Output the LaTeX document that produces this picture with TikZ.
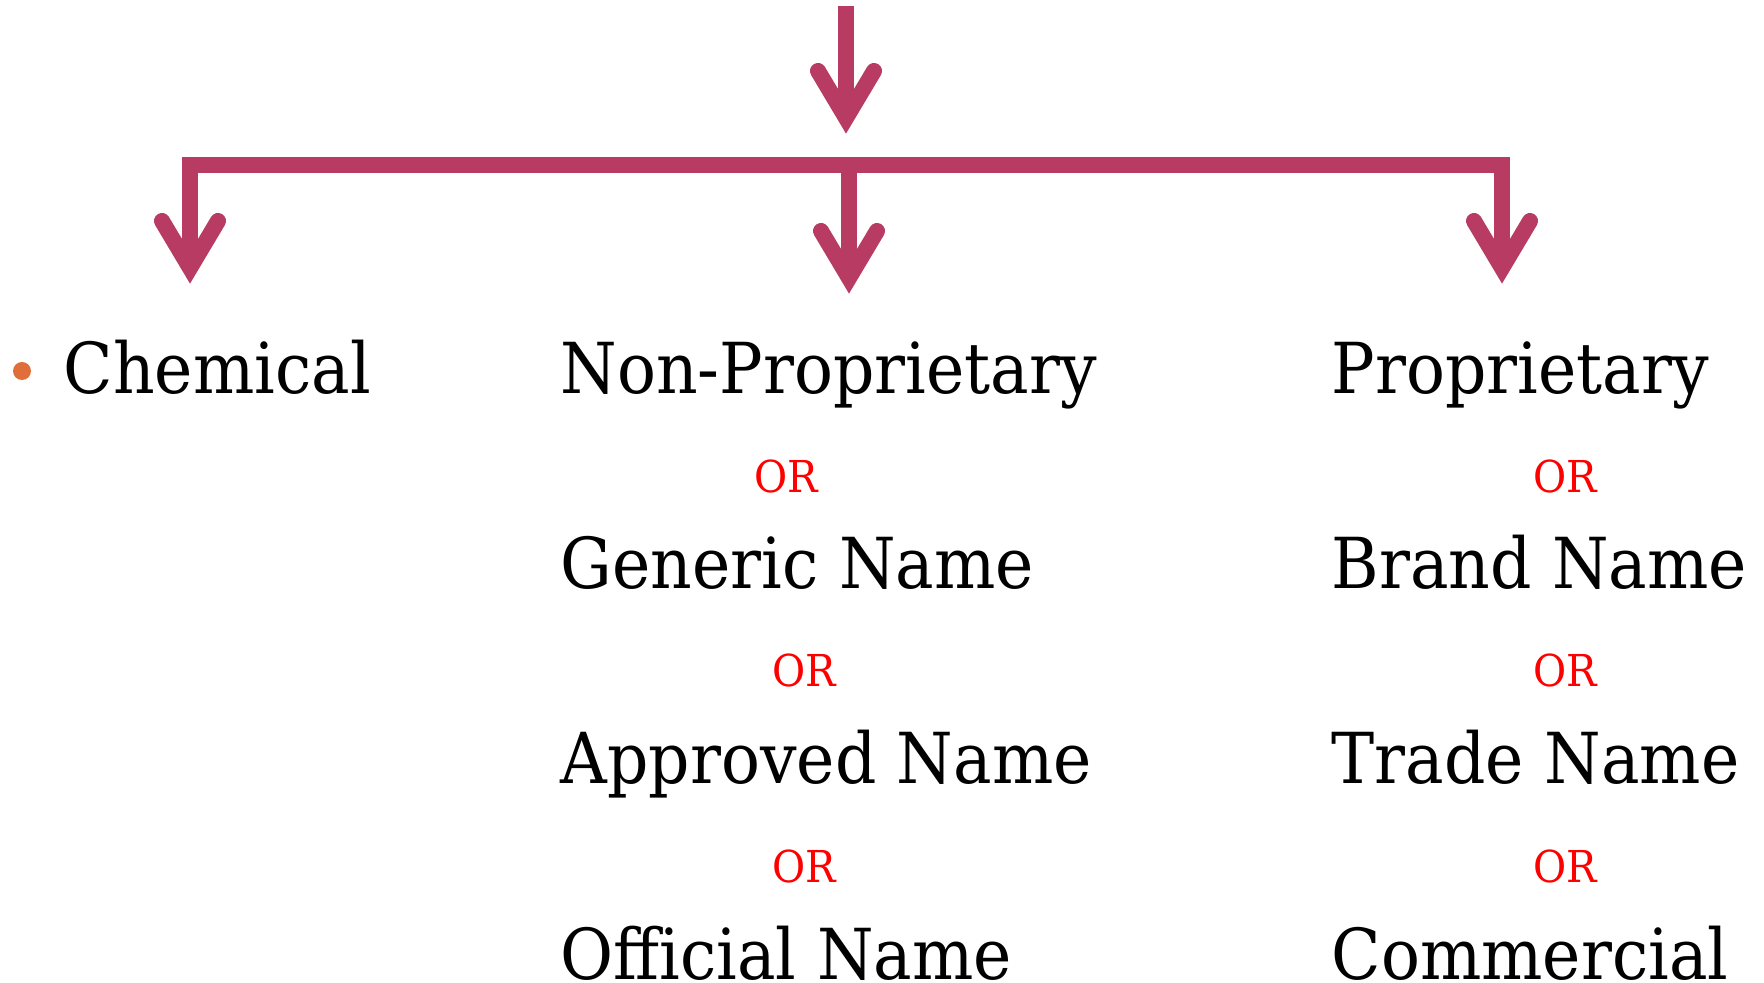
\documentclass[tikz,border=0pt]{standalone}
\usepackage{fontspec}
\setmainfont{DejaVu Serif}[FakeStretch=0.92]
\usepackage{tikz}
\usetikzlibrary{calc}
\definecolor{berry}{RGB}{184,59,100}
\definecolor{bulletorange}{RGB}{224,110,58}
\newcommand{\termfont}{\fontsize{20pt}{24pt}\selectfont}
\newcommand{\orfont}{\fontsize{12.5pt}{14pt}\selectfont}
\tikzstyle{term}=[anchor=base west,inner sep=0pt,font=\termfont]
\tikzstyle{ortext}=[anchor=base west,inner sep=0pt,font=\orfont,text=red]
\tikzstyle{branch} = [draw,line width=0.16cm,berry,line join=miter]
\tikzstyle{head} = [draw,line width=0.16cm,berry,line cap=round,line join=miter]
\begin{document}
\begin{tikzpicture}[x=0.01cm,y=-0.01cm]

    \useasboundingbox (0,0) rectangle (1764,983);

    % arrow tips
    \coordinate (topstart) at (846,6);
    \coordinate (toptip) at (846,133);
    \coordinate (chemtip) at (190,283);
    \coordinate (nptip) at (849,293);
    \coordinate (ptip) at (1502,283);
    \coordinate (barmid) at (849,165);

    \foreach \name/\x/\y/\label in { chem/63/394/Chemical, nonprop/560/394/Non-Proprietary, generic/560/589/Generic Name,
        approved/560/784/Approved Name, official/560/979/Official Name, prop/1331/394/Proprietary,
        brand/1331/589/Brand Name, trade/1331/784/Trade Name, commercial/1331/979/Commercial }
        \node[term] (\name) at (\x,\y) {\label};

    \foreach \name/\x/\y in { or1/754/493, or2/772/687, or3/772/883, or4/1533/493, or5/1533/687, or6/1533/883 }
        \node[ortext] (\name) at (\x,\y) {OR};

    \fill[bulletorange] (22,371) circle (9);

    \path[branch] (topstart) -- ($(toptip)+(0,-15)$);
    \path[branch] ($(chemtip)+(0,-15)$) -- (chemtip |- barmid) -- (ptip |- barmid) -- ($(ptip)+(0,-15)$);
    \path[branch] (barmid) -- ($(nptip)+(0,-15)$);

    \foreach \t in {toptip, chemtip, nptip, ptip}
        \path[head] ($(\t)+(-28,-62)$) -- ($(\t)+(0,-15)$) -- ($(\t)+(28,-62)$);

\end{tikzpicture}
\end{document}
